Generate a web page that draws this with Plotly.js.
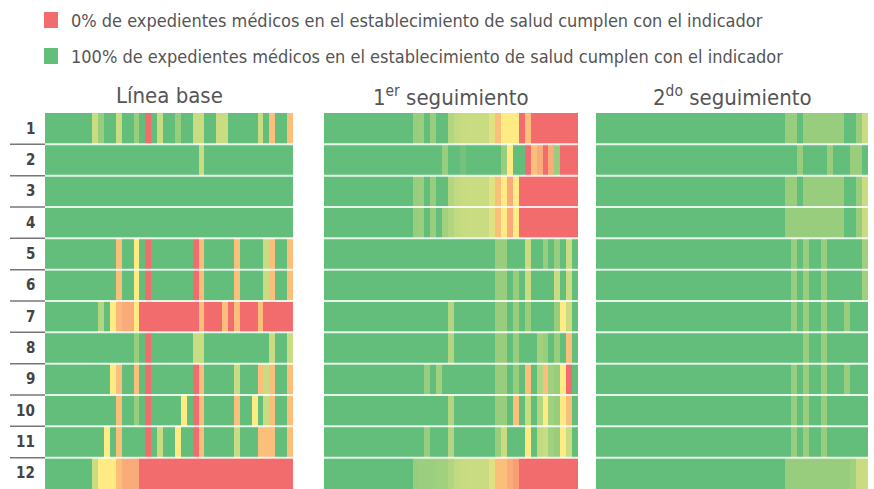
<!DOCTYPE html>
<html><head><meta charset="utf-8">
<script src="https://cdn.plot.ly/plotly-3.0.1.min.js"></script>
<style>html,body{margin:0;padding:0;background:#fff}</style>
</head><body><div id="chart" style="width:874px;height:489px"></div>
<script>
// Row labels (indicators)
const rowLabels = ['1','2','3','4','5','6','7','8','9','10','11','12'];
const panelTitles = ['Línea base', '1<sup>er</sup> seguimiento', '2<sup>do</sup> seguimiento'];
const legendLabels = ['0% de expedientes médicos en el establecimiento de salud cumplen con el indicador',
                      '100% de expedientes médicos en el establecimiento de salud cumplen con el indicador'];
const legendColors = ['#F26B6D', '#63BE7B'];

// % compliance per establishment (columns), one array per indicator row
const lineaBase = [
 [100,100,100,100,100,100,100,100,67,83, 100,100,67,100,100,83,100,0,100,67, 100,100,83,100,100,67,67,100,100,67, 67,100,100,100,100,100,67,100,33,100, 100,33],
 [100,100,100,100,100,100,100,100,100,100, 100,100,100,100,100,100,100,100,100,100, 100,100,100,100,100,100,67,100,100,100, 100,100,100,100,100,100,100,100,100,100, 100,100],
 [100,100,100,100,100,100,100,100,100,100, 100,100,100,100,100,100,100,100,100,100, 100,100,100,100,100,100,100,100,100,100, 100,100,100,100,100,100,100,100,100,100, 100,100],
 [100,100,100,100,100,100,100,100,100,100, 100,100,100,100,100,100,100,100,100,100, 100,100,100,100,100,100,100,100,100,100, 100,100,100,100,100,100,100,100,100,100, 100,100],
 [100,100,100,100,100,100,100,100,100,100, 100,100,33,100,100,50,100,0,100,100, 100,100,100,100,100,0,33,100,100,100, 100,100,33,100,100,100,100,67,33,100, 100,33],
 [100,100,100,100,100,100,100,100,100,100, 100,100,33,100,100,50,100,0,100,100, 100,100,100,100,100,0,33,100,100,100, 100,100,33,100,100,100,100,67,33,100, 100,33],
 [100,100,100,100,100,100,100,100,100,75, 100,50,30,25,25,50,0,0,0,0, 0,0,0,0,0,0,33,0,0,0, 33,0,33,0,0,0,33,0,0,0, 0,0],
 [100,100,100,100,100,100,100,100,100,100, 100,100,100,100,100,83,100,0,100,100, 100,100,100,100,100,67,67,100,100,100, 100,100,100,100,100,100,100,100,67,100, 100,67],
 [100,100,100,100,100,100,100,100,100,100, 100,50,33,100,100,33,100,0,100,100, 100,100,100,100,100,0,33,100,100,100, 100,100,67,100,100,100,33,67,33,100, 100,33],
 [100,100,100,100,100,100,100,100,100,100, 100,100,33,100,100,83,100,0,100,100, 100,100,100,50,100,0,33,100,100,100, 100,100,33,100,100,50,100,67,33,100, 100,33],
 [100,100,100,100,100,100,100,100,100,100, 50,100,33,100,100,100,100,0,100,67, 100,100,50,100,100,0,33,100,100,100, 100,100,67,100,100,100,33,33,33,100, 100,33],
 [100,100,100,100,100,100,100,100,67,50, 50,50,33,25,25,25,0,0,0,0, 0,0,0,0,0,0,0,0,0,0, 0,0,0,0,0,0,0,0,0,0, 0,0]
];

const seguimiento1 = [
 [100,100,100,100,100,100,100,100,100,100, 100,100,100,100,100,83,82,100,83,100, 100,75,70,68,67,67,67,67,60,33, 50,50,50,0,33,0,0,0,0,0, 0,0,0],
 [100,100,100,100,100,100,100,100,100,100, 100,100,100,100,100,100,100,100,100,100, 83,100,100,95,100,100,100,100,100,100, 83,50,100,100,0,33,25,0,25,83, 0,0,0],
 [100,100,100,100,100,100,100,100,100,100, 100,100,100,100,100,83,82,100,83,100, 100,75,70,68,67,67,67,67,60,33, 50,25,50,0,0,0,0,0,0,0, 0,0,0],
 [100,100,100,100,100,100,100,100,100,100, 100,100,100,100,100,83,82,100,83,100, 80,75,70,68,67,67,67,67,60,33, 50,25,50,0,0,0,0,0,0,0, 0,0,0],
 [100,100,100,100,100,100,100,100,100,100, 100,100,100,100,100,100,100,100,100,100, 100,100,100,100,100,100,100,100,100,83, 83,100,100,100,67,100,100,83,100,83, 100,67,100],
 [100,100,100,100,100,100,100,100,100,100, 100,100,100,100,100,100,100,100,100,100, 100,100,100,100,100,100,100,100,100,83, 83,100,83,100,67,100,100,100,100,67, 100,67,100],
 [100,100,100,100,100,100,100,100,100,100, 100,100,100,100,100,100,100,100,100,100, 100,75,100,100,100,100,100,100,100,83, 83,100,83,100,83,100,100,100,100,83, 50,67,100],
 [100,100,100,100,100,100,100,100,100,100, 100,100,100,100,100,100,100,100,100,100, 100,75,100,100,100,100,100,100,100,83, 83,100,83,100,100,100,80,83,100,83, 100,33,100],
 [100,100,100,100,100,100,100,100,100,100, 100,100,100,100,100,100,100,83,100,80, 100,100,100,100,100,100,100,100,100,83, 83,100,83,100,33,100,75,33,80,83, 50,0,100],
 [100,100,100,100,100,100,100,100,100,100, 100,100,100,100,100,100,100,100,100,100, 100,75,100,100,100,100,100,100,100,83, 83,100,33,100,67,100,75,50,80,83, 50,33,100],
 [100,100,100,100,100,100,100,100,100,100, 100,100,100,100,100,100,100,83,100,100, 100,75,100,100,100,100,100,100,100,83, 67,100,100,100,50,100,70,67,80,83, 50,67,100],
 [100,100,100,100,100,100,100,100,100,100, 100,100,100,100,100,83,82,82,82,80, 80,75,70,68,67,67,67,67,60,33, 33,25,20,0,0,0,0,0,0,0, 0,0,0]
];

const seguimiento2 = [
 [100,100,100,100,100,100,100,100,100,100, 100,100,100,100,100,100,100,100,100,100, 100,100,100,100,100,100,100,100,100,100, 100,100,83,83,100,83,83,83,83,83, 83,83,100,100,83,67],
 [100,100,100,100,100,100,100,100,100,100, 100,100,100,100,100,100,100,100,100,100, 100,100,100,100,100,100,100,100,100,100, 100,100,100,100,83,100,100,100,100,83, 100,100,100,83,83,100],
 [100,100,100,100,100,100,100,100,100,100, 100,100,100,100,100,100,100,100,100,100, 100,100,100,100,100,100,100,100,100,100, 100,100,83,83,100,83,83,83,83,83, 83,83,100,100,83,67],
 [100,100,100,100,100,100,100,100,100,100, 100,100,100,100,100,100,100,100,100,100, 100,100,100,100,100,100,100,100,100,100, 100,100,83,83,83,83,83,83,83,83, 83,83,100,100,83,67],
 [100,100,100,100,100,100,100,100,100,100, 100,100,100,100,100,100,100,100,100,100, 100,100,100,100,100,100,100,100,100,100, 100,100,100,83,100,83,100,100,83,100, 100,100,100,100,100,80],
 [100,100,100,100,100,100,100,100,100,100, 100,100,100,100,100,100,100,100,100,100, 100,100,100,100,100,100,100,100,100,100, 100,100,100,83,100,83,100,100,83,100, 100,100,100,100,100,80],
 [100,100,100,100,100,100,100,100,100,100, 100,100,100,100,100,100,100,100,100,100, 100,100,100,100,100,100,100,100,100,100, 100,100,100,83,100,83,100,100,83,100, 100,100,83,100,100,100],
 [100,100,100,100,100,100,100,100,100,100, 100,100,100,100,100,100,100,100,100,100, 100,100,100,100,100,100,100,100,100,100, 100,100,100,100,100,83,100,100,83,100, 100,100,100,100,100,100],
 [100,100,100,100,100,100,100,100,100,100, 100,100,100,100,100,100,100,100,100,100, 100,100,100,100,100,100,100,100,100,100, 100,100,100,83,100,83,100,100,83,100, 100,100,83,100,100,100],
 [100,100,100,100,100,100,100,100,100,100, 100,100,100,100,100,100,100,100,100,100, 100,100,100,100,100,100,100,100,100,100, 100,100,100,83,100,83,100,100,83,100, 100,100,100,100,100,100],
 [100,100,100,100,100,100,100,100,100,100, 100,100,100,100,100,100,100,100,100,100, 100,100,100,100,100,100,100,100,100,100, 100,100,100,83,100,83,100,100,83,100, 100,100,100,100,100,100],
 [100,100,100,100,100,100,100,100,100,100, 100,100,100,100,100,100,100,100,100,100, 100,100,100,100,100,100,100,100,100,100, 100,100,83,83,83,83,83,83,83,83, 83,83,83,80,67,67]
];

const W = 874, H = 489;
const panelsPx = [[45, 293], [324, 578], [596, 868]];
const plotTop = 113, plotBottom = 489;
const fontFam = '"Liberation Sans Narrow", "DejaVu Sans Condensed", "Open Sans", sans-serif';
const colorscale = [[0, '#F26B6D'], [0.5, '#FFEB84'], [1, '#63BE7B']];

const panelData = [lineaBase, seguimiento1, seguimiento2];
const rowNums = rowLabels.map((_, i) => i + 1);

const traces = panelData.map((z, p) => ({
  type: 'heatmap',
  z: z,
  x: z[0].map((_, i) => i),
  y: rowNums,
  xaxis: p === 0 ? 'x' : 'x' + (p + 1),
  yaxis: 'y',
  colorscale: colorscale,
  zmin: 0, zmax: 100,
  showscale: false,
  hoverinfo: 'skip'
}));

const layout = {
  width: W, height: H,
  margin: {l: 0, r: 0, t: 0, b: 0},
  paper_bgcolor: '#fff', plot_bgcolor: '#fff',
  showlegend: false,
  font: {family: fontFam, color: '#555'},
  yaxis: {domain: [0, 1 - plotTop / H], range: [12.5, 0.5], visible: false, fixedrange: true},
  shapes: [], annotations: []
};
panelData.forEach((z, p) => {
  const key = p === 0 ? 'xaxis' : 'xaxis' + (p + 1);
  layout[key] = {domain: [panelsPx[p][0] / W, panelsPx[p][1] / W], range: [-0.5, z[0].length - 0.5],
                 visible: false, fixedrange: true, anchor: 'y'};
  for (let r = 1; r < rowNums.length; r++) {
    layout.shapes.push({type: 'line', xref: 'paper', yref: 'y',
      x0: panelsPx[p][0] / W, x1: panelsPx[p][1] / W, y0: r + 0.5, y1: r + 0.5,
      line: {color: 'rgba(255,255,255,0.85)', width: 2}});
  }
  layout.annotations.push({xref: 'paper', yref: 'paper', x: (panelsPx[p][0] + panelsPx[p][1]) / 2 / W,
    y: 1 - 96 / H, xanchor: 'center', yanchor: 'middle', showarrow: false,
    text: panelTitles[p], font: {size: 22, color: '#555', family: fontFam}});
});
rowNums.forEach((r, i) => {
  layout.annotations.push({xref: 'paper', yref: 'y', x: 37 / W, y: r, xanchor: 'right', yanchor: 'middle',
    showarrow: false, text: '<b>' + rowLabels[i] + '</b>', font: {size: 15, color: '#444', family: fontFam}});
  if (i > 0) layout.shapes.push({type: 'line', xref: 'paper', yref: 'y', x0: 10 / W, x1: 45 / W,
    y0: r - 0.5, y1: r - 0.5, line: {color: '#777', width: 1.5}});
});
const legendY = [20, 56];
legendLabels.forEach((t, i) => {
  layout.shapes.push({type: 'rect', xref: 'paper', yref: 'paper', x0: 44 / W, x1: 58 / W,
    y0: 1 - (legendY[i] + 8) / H, y1: 1 - (legendY[i] - 8) / H, line: {width: 0}, fillcolor: legendColors[i]});
  layout.annotations.push({xref: 'paper', yref: 'paper', x: 69 / W, y: 1 - legendY[i] / H,
    xanchor: 'left', yanchor: 'middle', showarrow: false, text: t,
    font: {size: 18, color: '#555', family: fontFam}});
});

Plotly.newPlot('chart', traces, layout, {displayModeBar: false, staticPlot: true});
</script>
</body></html>
